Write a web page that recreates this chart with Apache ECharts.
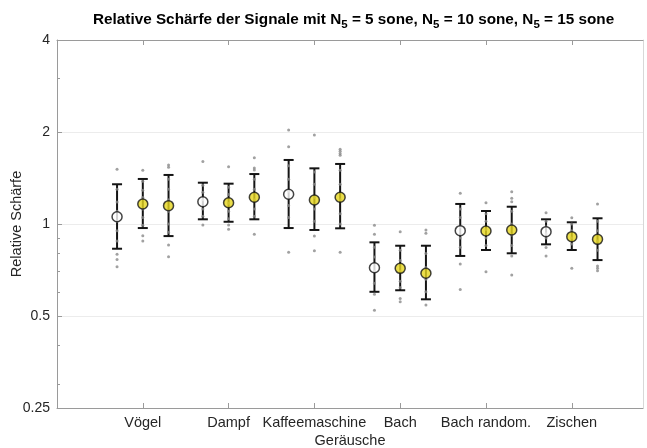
<!DOCTYPE html>
<html>
<head>
<meta charset="utf-8">
<script src="https://cdn.jsdelivr.net/npm/echarts@6/dist/echarts.min.js"></script>
<style>
  html, body { margin: 0; padding: 0; background: #fff; }
  #main { width: 647px; height: 448px; }
</style>
</head>
<body>
<div id="main"></div>
<script>
var categories = ['Vögel', 'Dampf', 'Kaffeemaschine', 'Bach', 'Bach random.', 'Zischen'];

// N5 = 5 sone (white markers)
var mean5 = [1.056, 1.183, 1.251, 0.719, 0.951, 0.944];
var upper5 = [1.349, 1.365, 1.620, 0.871, 1.163, 1.036];
var lower5 = [0.830, 1.036, 0.970, 0.600, 0.786, 0.858];
// N5 = 10 sone
var mean10 = [1.163, 1.174, 1.198, 0.716, 0.949, 0.909];
var upper10 = [1.404, 1.355, 1.521, 0.849, 1.103, 1.013];
var lower10 = [0.970, 1.017, 0.956, 0.607, 0.822, 0.822];
// N5 = 15 sone
var mean15 = [1.148, 1.223, 1.223, 0.690, 0.956, 0.891];
var upper15 = [1.447, 1.457, 1.572, 0.849, 1.139, 1.044];
var lower15 = [0.913, 1.036, 0.968, 0.567, 0.802, 0.762];

// single ratings (grey dots)
var points5 = [
  [1.51, 1.30, 1.18, 1.10, 1.02, 0.95, 0.88, 0.796, 0.766, 0.725],
  [1.60, 1.34, 1.27, 1.20, 1.12, 1.06, 0.992],
  [2.03, 1.79, 1.55, 1.40, 1.28, 1.15, 1.05, 0.808],
  [0.99, 0.925, 0.84, 0.78, 0.70, 0.64, 0.589, 0.522],
  [1.26, 1.12, 1.05, 0.98, 0.90, 0.84, 0.740, 0.611],
  [1.089, 1.02, 0.98, 0.93, 0.90, 0.837, 0.786]
];
var points10 = [
  [1.50, 1.38, 1.29, 1.22, 1.12, 1.05, 0.99, 0.916, 0.880],
  [1.54, 1.32, 1.25, 1.17, 1.10, 1.04, 0.992, 0.961],
  [1.955, 1.48, 1.35, 1.22, 1.12, 1.02, 0.913, 0.818],
  [0.944, 0.82, 0.76, 0.70, 0.65, 0.62, 0.571, 0.557],
  [1.174, 1.08, 1.02, 0.96, 0.90, 0.85, 0.698],
  [1.049, 1.00, 0.95, 0.90, 0.86, 0.716]
];
var points15 = [
  [1.56, 1.533, 1.40, 1.30, 1.20, 1.10, 1.00, 0.94, 0.854, 0.782],
  [1.648, 1.525, 1.502, 1.40, 1.30, 1.20, 1.12, 1.06, 0.925],
  [1.755, 1.73, 1.70, 1.68, 1.50, 1.35, 1.20, 1.08, 1.00, 0.808],
  [0.956, 0.932, 0.80, 0.72, 0.66, 0.60, 0.543],
  [1.276, 1.214, 1.183, 1.10, 1.00, 0.92, 0.85, 0.786, 0.681],
  [1.163, 1.02, 0.95, 0.88, 0.82, 0.729, 0.716, 0.703]
];

var yTicks = [0.25, 0.5, 1, 2, 4];
var yMinorTicks = [0.3, 0.4, 0.6, 0.7, 0.8, 0.9, 3];

var FONT = 'Liberation Sans, Arial, sans-serif';
var TXT = '#262626';
var AXIS = '#9a9a9a';
var FS = 14.5;
var catTicks = categories.map(function (c, i) { return i + 1; });

function errorBars(upper, lower, off) {
  return {
    type: 'custom',
    xAxisIndex: 0,
    yAxisIndex: 0,
    z: 3,
    silent: true,
    data: categories.map(function (c, i) { return [i + 1 + off, lower[i], upper[i]]; }),
    encode: { x: 0, y: [1, 2] },
    renderItem: function (params, api) {
      var x = api.value(0);
      var lo = api.coord([x, api.value(1)]);
      var hi = api.coord([x, api.value(2)]);
      var w = 5;
      var st = { stroke: '#141414', lineWidth: 2 };
      return {
        type: 'group',
        children: [
          { type: 'line', shape: { x1: lo[0], y1: lo[1], x2: hi[0], y2: hi[1] }, style: st },
          { type: 'line', shape: { x1: lo[0] - w, y1: lo[1], x2: lo[0] + w, y2: lo[1] }, style: st },
          { type: 'line', shape: { x1: hi[0] - w, y1: hi[1], x2: hi[0] + w, y2: hi[1] }, style: st }
        ]
      };
    }
  };
}

function dots(points, off) {
  var data = [];
  points.forEach(function (arr, i) {
    arr.forEach(function (v) { data.push([i + 1 + off, v]); });
  });
  return {
    type: 'scatter',
    z: 4,
    silent: true,
    symbolSize: 3,
    itemStyle: { color: '#8a8a8a' },
    data: data
  };
}

function means(mean, off, fill) {
  return {
    type: 'scatter',
    z: 5,
    silent: true,
    symbolSize: 10,
    itemStyle: { color: fill, borderColor: '#141414', borderWidth: 1.5 },
    data: mean.map(function (v, i) { return [i + 1 + off, v]; })
  };
}

var option = {
  animation: false,
  backgroundColor: '#fff',
  textStyle: { fontFamily: FONT },
  title: {
    left: 88,
    top: 6,
    text: 'Relative Schärfe der Signale mit N{s|5} = 5 sone, N{s|5} = 10 sone, N{s|5} = 15 sone',
    textStyle: {
      fontFamily: FONT,
      fontSize: 15.3,
      fontWeight: 'bold',
      color: '#000',
      lineHeight: 18,
      rich: {
        s: { fontFamily: FONT, fontSize: 11.5, fontWeight: 'bold', color: '#000', padding: [10, 0, 0, 0] }
      }
    }
  },
  grid: { left: 57, right: 4, top: 40, bottom: 40, containLabel: false, outerBoundsMode: 'none' },
  xAxis: [{
    type: 'value',
    min: 0,
    max: 6.83,
    position: 'bottom',
    name: 'Geräusche',
    nameLocation: 'middle',
    nameGap: 25,
    nameMoveOverlap: false,
    nameTextStyle: { fontSize: FS, color: TXT, fontFamily: FONT },
    axisLine: { show: true, lineStyle: { color: AXIS, width: 1 } },
    axisTick: { inside: true, length: 5, lineStyle: { color: AXIS }, customValues: catTicks },
    axisLabel: {
      customValues: catTicks,
      formatter: function (v) { return categories[Math.round(v) - 1] || ''; },
      fontSize: FS, color: TXT, margin: 7, fontFamily: FONT
    },
    splitLine: { show: false }
  }, {
    type: 'value',
    min: 0,
    max: 6.83,
    position: 'top',
    axisLine: { show: true, lineStyle: { color: AXIS, width: 1 } },
    axisTick: { inside: true, length: 5, lineStyle: { color: AXIS }, customValues: catTicks },
    axisLabel: { show: false },
    splitLine: { show: false }
  }],
  yAxis: [{
    type: 'log',
    logBase: 2,
    min: 0.25,
    max: 4,
    position: 'left',
    name: 'Relative Schärfe',
    nameLocation: 'middle',
    nameGap: 33,
    nameMoveOverlap: false,
    nameRotate: 90,
    nameTextStyle: { fontSize: FS, color: TXT, fontFamily: FONT },
    axisLine: { show: true, lineStyle: { color: AXIS, width: 1 } },
    axisTick: { inside: true, length: 5, lineStyle: { color: AXIS }, customValues: yTicks },
    axisLabel: {
      customValues: yTicks,
      formatter: function (v) { return String(v); },
      fontSize: 14, color: TXT, margin: 7, fontFamily: FONT
    },
    splitLine: { show: true, lineStyle: { color: '#ececec', width: 1 } }
  }, {
    type: 'log',
    logBase: 2,
    min: 0.25,
    max: 4,
    position: 'left',
    axisLine: { show: false },
    axisTick: { inside: true, length: 3, lineStyle: { color: AXIS }, customValues: yMinorTicks },
    axisLabel: { show: false },
    splitLine: { show: false }
  }, {
    type: 'log',
    logBase: 2,
    min: 0.25,
    max: 4,
    position: 'right',
    axisLine: { show: true, lineStyle: { color: '#d8d8d8', width: 1 } },
    axisTick: { show: false },
    axisLabel: { show: false },
    splitLine: { show: false }
  }],
  series: [
    errorBars(upper5, lower5, -0.3),
    errorBars(upper10, lower10, 0),
    errorBars(upper15, lower15, 0.3),
    dots(points5, -0.3),
    dots(points10, 0),
    dots(points15, 0.3),
    means(mean5, -0.3, '#ffffff'),
    means(mean10, 0, '#e6d61e'),
    means(mean15, 0.3, '#e6d61e')
  ]
};

echarts.init(document.getElementById('main')).setOption(option);
</script>
</body>
</html>
